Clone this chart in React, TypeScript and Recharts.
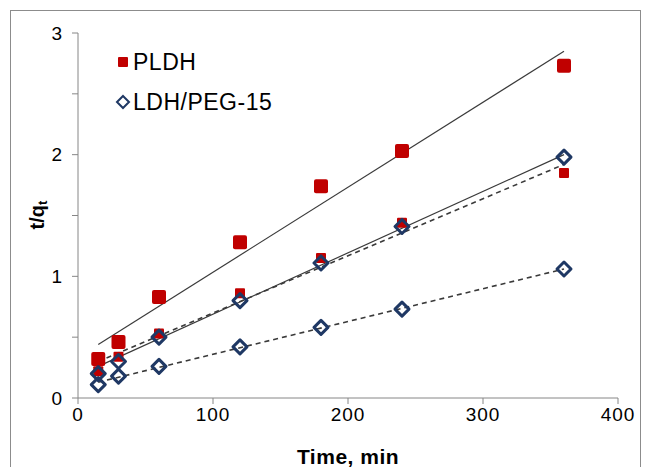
import React from 'react'
import { ScatterChart, Scatter, XAxis, YAxis, Label } from 'recharts'

// sampling times (min)
const times = [15, 30, 60, 120, 180, 240, 360]
// t/qt values
const pldhValues = [0.32, 0.46, 0.83, 1.28, 1.74, 2.03, 2.73]
const pegValues = [0.2, 0.3, 0.5, 0.8, 1.11, 1.41, 1.98]
const pldhSmallValues = [0.22, 0.34, 0.53, 0.86, 1.15, 1.44, 1.85]
const pegLowValues = [0.11, 0.18, 0.26, 0.42, 0.58, 0.73, 1.06]

// linear fit end points
const fitTimes = [15, 360]
const pldhFit = [0.44, 2.85]
const pegFit = [0.26, 2.0]
const pldhSmallFit = [0.3, 1.92]
const pegLowFit = [0.13, 1.06]

const xTicks = [0, 100, 200, 300, 400]
const yTicks = [0, 0.5, 1, 1.5, 2, 2.5, 3]
const legendNames = ['PLDH', 'LDH/PEG-15']

const RED = '#c00000'
const NAVY = '#1f3864'
const FONT = '"Liberation Sans", Arial, sans-serif'

const toPoints = (xs: number[], ys: number[]) => xs.map((t, i) => ({ t, v: ys[i] }))

const BigSquare = (props: any) => {
  const { cx, cy } = props
  return <rect x={cx - 7} y={cy - 7} width={14} height={14} rx={2} fill={RED} />
}

const SmallSquare = (props: any) => {
  const { cx, cy } = props
  return <rect x={cx - 5} y={cy - 5} width={10} height={10} rx={1} fill={RED} />
}

const Diamond = (props: any) => {
  const { cx, cy } = props
  const r = 7
  return (
    <path
      d={`M${cx},${cy - r} L${cx + r},${cy} L${cx},${cy + r} L${cx - r},${cy} Z`}
      fill="none"
      stroke={NAVY}
      strokeWidth={3}
      strokeLinejoin="round"
    />
  )
}

const NoDot = () => <g />

const LegendBox = () => (
  <div
    style={{
      position: 'absolute',
      left: 114,
      top: 42,
      fontFamily: FONT,
      fontSize: 23,
      letterSpacing: 0.5,
      color: '#000',
      lineHeight: '40px',
    }}
  >
    <div style={{ display: 'flex', alignItems: 'center' }}>
      <svg width={19} height={14}>
        <rect x={4} y={2} width={10} height={10} rx={1} fill={RED} />
      </svg>
      <span>{legendNames[0]}</span>
    </div>
    <div style={{ display: 'flex', alignItems: 'center' }}>
      <svg width={19} height={16}>
        <path d="M9,2 L15,8 L9,14 L3,8 Z" fill="none" stroke={NAVY} strokeWidth={2} />
      </svg>
      <span>{legendNames[1]}</span>
    </div>
  </div>
)

const YTitle = (props: any) => {
  const { viewBox } = props
  const x = viewBox.x + 9
  const y = 215
  return (
    <text
      x={x}
      y={y}
      transform={`rotate(-90, ${x}, ${y})`}
      textAnchor="middle"
      dominantBaseline="central"
      fontFamily={FONT}
      fontSize={20}
      fontWeight="bold"
      fill="#000"
    >
      t/q
      <tspan fontSize={13} dy={5}>t</tspan>
    </text>
  )
}

export default function App() {
  return (
    <div style={{ position: 'absolute', left: 0, top: 0, width: 645, height: 467, background: '#fff', overflow: 'hidden' }}>
      <div
        style={{
          position: 'absolute',
          left: 10,
          top: 10,
          width: 629,
          height: 470,
          border: '1px solid #8c8c8c',
        }}
      />
      <ScatterChart
        width={645}
        height={467}
        margin={{ top: 33, right: 27, left: 28, bottom: 0 }}
        style={{ position: 'absolute', left: 0, top: 0 }}
      >
        <XAxis
          type="number"
          dataKey="t"
          domain={[0, 400]}
          ticks={xTicks}
          height={69}
          stroke="#868686"
          tickSize={6}
          tickMargin={4}
          tick={{ fontSize: 19, fill: '#000', fontFamily: FONT, letterSpacing: 1 }}
        >
          <Label
            value="Time, min"
            position="insideBottom"
            offset={3}
            style={{ fontSize: 21, fontWeight: 'bold', fill: '#000', fontFamily: FONT, letterSpacing: 0.5 }}
          />
        </XAxis>
        <YAxis
          type="number"
          dataKey="v"
          domain={[0, 3]}
          ticks={yTicks}
          width={50}
          stroke="#868686"
          tickSize={6}
          tickMargin={10}
          tickFormatter={(v: number) => (Number.isInteger(v) ? String(v) : '')}
          tick={{ fontSize: 19, fill: '#000', fontFamily: FONT }}
        >
          <Label content={<YTitle />} />
        </YAxis>
        <Scatter
          data={toPoints(fitTimes, pldhFit)}
          line={{ stroke: '#3a3a3a', strokeWidth: 1.2 }}
          shape={NoDot}
          isAnimationActive={false}
        />
        <Scatter
          data={toPoints(fitTimes, pegFit)}
          line={{ stroke: '#3a3a3a', strokeWidth: 1.2 }}
          shape={NoDot}
          isAnimationActive={false}
        />
        <Scatter
          data={toPoints(fitTimes, pldhSmallFit)}
          line={{ stroke: '#3a3a3a', strokeWidth: 1.6, strokeDasharray: '5 4' }}
          shape={NoDot}
          isAnimationActive={false}
        />
        <Scatter
          data={toPoints(fitTimes, pegLowFit)}
          line={{ stroke: '#3a3a3a', strokeWidth: 1.6, strokeDasharray: '5 4' }}
          shape={NoDot}
          isAnimationActive={false}
        />
        <Scatter name="PLDH" data={toPoints(times, pldhValues)} shape={BigSquare} isAnimationActive={false} />
        <Scatter data={toPoints(times, pldhSmallValues)} shape={SmallSquare} isAnimationActive={false} />
        <Scatter name="LDH/PEG-15" data={toPoints(times, pegValues)} shape={Diamond} isAnimationActive={false} />
        <Scatter data={toPoints(times, pegLowValues)} shape={Diamond} isAnimationActive={false} />
      </ScatterChart>
      <LegendBox />
    </div>
  )
}
